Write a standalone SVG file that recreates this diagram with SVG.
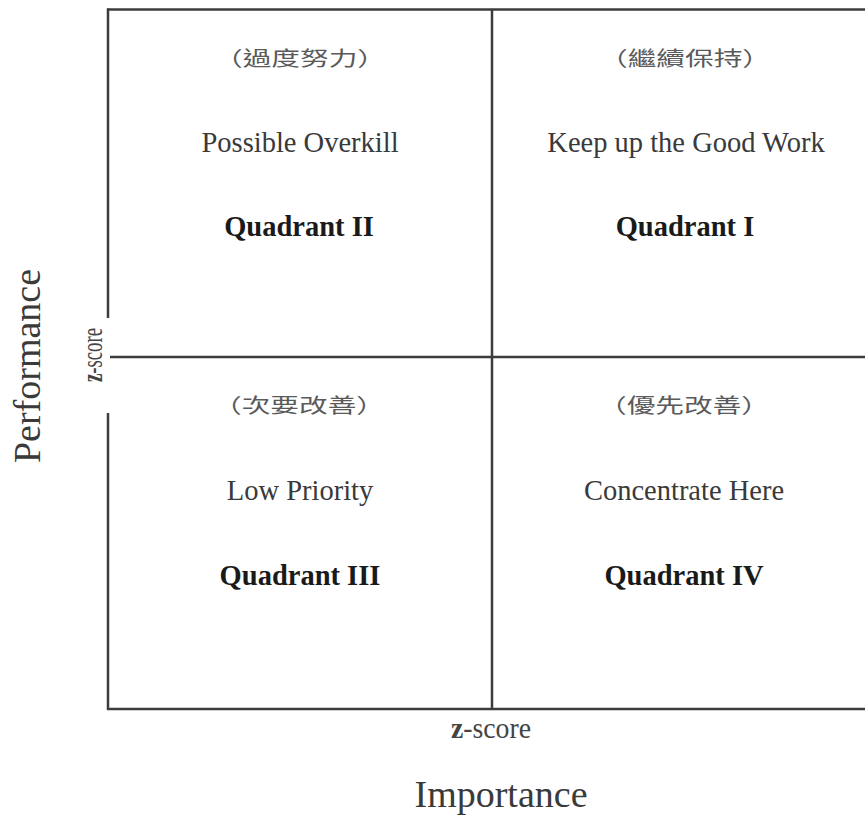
<svg xmlns="http://www.w3.org/2000/svg" width="865" height="816" viewBox="0 0 865 816">
  <style>
    .en { font-family: "Liberation Serif", "Times New Roman", serif; font-size: 28.5px; fill: #3a3a3a; text-anchor: middle; }
    .qd { font-family: "Liberation Serif", "Times New Roman", serif; font-size: 28.5px; font-weight: bold; fill: #1a1a1a; text-anchor: middle; }
    .cjk { font-family: "Noto Sans CJK TC", "Noto Sans CJK SC", sans-serif; font-size: 20px; fill: #5a5a5a; text-anchor: middle; }
    .axis { font-family: "Liberation Serif", "Times New Roman", serif; font-size: 38px; fill: #3a3a3a; text-anchor: middle; }
    .zs { font-family: "Liberation Serif", "Times New Roman", serif; font-size: 30px; fill: #444; text-anchor: middle; }
    .ln { stroke: #3c3c3c; stroke-width: 2.5; fill: none; }
  </style>
  <rect width="865" height="816" fill="#ffffff"/>

  <!-- frame and quadrant dividers -->
  <g id="connectors">
    <line class="ln" x1="107" y1="9.5" x2="865" y2="9.5"/>
    <line class="ln" x1="108" y1="8.5" x2="108" y2="318"/>
    <line class="ln" x1="108" y1="413" x2="108" y2="710"/>
    <line class="ln" x1="107" y1="709" x2="865" y2="709"/>
    <line class="ln" x1="492" y1="9" x2="492" y2="709"/>
    <line class="ln" x1="110" y1="357" x2="865" y2="357"/>
  </g>

  <g id="quadrant-2">
    <text class="cjk" x="300" y="66" textLength="172" lengthAdjust="spacingAndGlyphs">（過度努力）</text>
    <text class="en" x="300" y="152">Possible Overkill</text>
    <text class="qd" x="299" y="236">Quadrant II</text>
  </g>

  <g id="quadrant-1">
    <text class="cjk" x="685" y="66" textLength="172" lengthAdjust="spacingAndGlyphs">（繼續保持）</text>
    <text class="en" x="686" y="152">Keep up the Good Work</text>
    <text class="qd" x="685" y="236">Quadrant I</text>
  </g>

  <g id="quadrant-3">
    <text class="cjk" x="299" y="413" textLength="172" lengthAdjust="spacingAndGlyphs">（次要改善）</text>
    <text class="en" x="300" y="500">Low Priority</text>
    <text class="qd" x="300" y="585">Quadrant III</text>
  </g>

  <g id="quadrant-4">
    <text class="cjk" x="684" y="413" textLength="172" lengthAdjust="spacingAndGlyphs">（優先改善）</text>
    <text class="en" x="684" y="500">Concentrate Here</text>
    <text class="qd" x="684" y="585">Quadrant IV</text>
  </g>

  <g id="axis-x">
    <text class="zs" x="491" y="738" textLength="80" lengthAdjust="spacingAndGlyphs"><tspan font-weight="bold">z</tspan>-score</text>
    <text class="axis" x="501" y="807">Importance</text>
  </g>

  <g id="axis-y">
    <text class="zs" transform="translate(102,355) rotate(-90)" x="0" y="0" textLength="54" lengthAdjust="spacingAndGlyphs"><tspan font-weight="bold">z</tspan>-score</text>
    <text class="axis" transform="translate(40,366) rotate(-90)" x="0" y="0">Performance</text>
  </g>
</svg>
